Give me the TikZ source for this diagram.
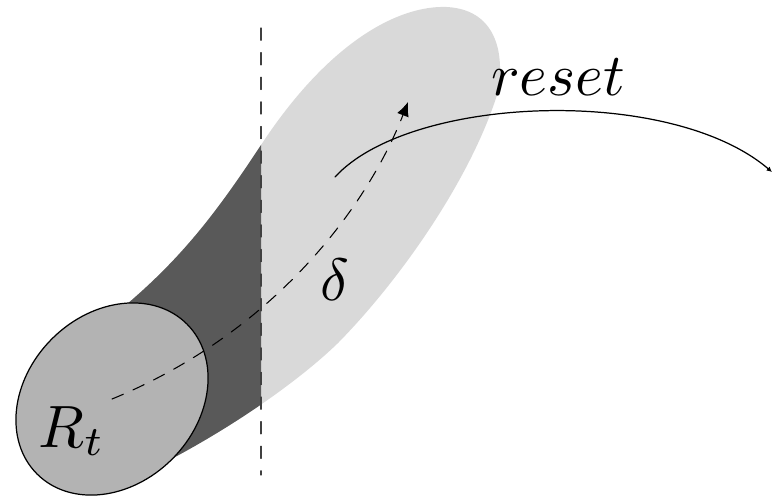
\documentclass[tikz,border=0pt]{standalone}
\usetikzlibrary{arrows.meta}
\definecolor{TubeLight}{HTML}{D9D9D9}
\definecolor{TubeDark}{HTML}{595959}
\definecolor{SetGray}{HTML}{B3B3B3}
% outline of the reachable tube, in pixel units
\newcommand{\tubepath}{(150,470) .. controls (230,430) and (300,380) .. (338,343)
  .. controls (400,280) and (470,180) .. (497,95)
  .. controls (505,60) and (500,10) .. (447,7)
  .. controls (400,5) and (330,40) .. (261,145)
  .. controls (215,215) and (180,260) .. (120,310)
  -- (80,360) -- (112,420) -- cycle}
\tikzset{
  lbl/.style={scale=3.4,inner sep=0pt},
  cutline/.style={black!75,line width=0.6pt,dash pattern=on 7pt off 7pt},
  flow/.style={line width=0.6pt,dash pattern=on 7pt off 6pt,-{Latex[length=8pt,width=7pt]}},
  jump/.style={line width=0.7pt,-{Latex[length=3pt,width=3pt]}}
}

\begin{document}
\begin{tikzpicture}[x=0.02cm,y=-0.02cm,line cap=round,line join=round]
  \useasboundingbox (0,0) rectangle (773,495);
  \fill[TubeLight] \tubepath;
  \begin{scope}
    \clip (0,0) rectangle (261,495);
    \fill[TubeDark] \tubepath;
  \end{scope}
  \draw[cutline] (261,28) -- (261,475);
  % the set R_t
  \draw[line width=0.7pt,fill=SetGray,rotate around={45:(112,399)}] (112,399) ellipse [x radius=106, y radius=85];
  \coordinate (rt) at (112,399);
  \coordinate (dtip) at (408,102);
  \coordinate (rs) at (335,177); \coordinate (re) at (772,172);
  \draw[flow] (rt) .. controls (280,330) and (370,200) .. (dtip);
  \draw[jump] (rs) .. controls (410,95) and (670,85) .. (re);
  \node[lbl,anchor=base] (rlbl) at (72,447) {$R_t$};
  \node[lbl] (dlbl) at (335,280) {$\delta$};
  \node[lbl,anchor=base] (reset) at (558,95) {$reset$};
\end{tikzpicture}
\end{document}
